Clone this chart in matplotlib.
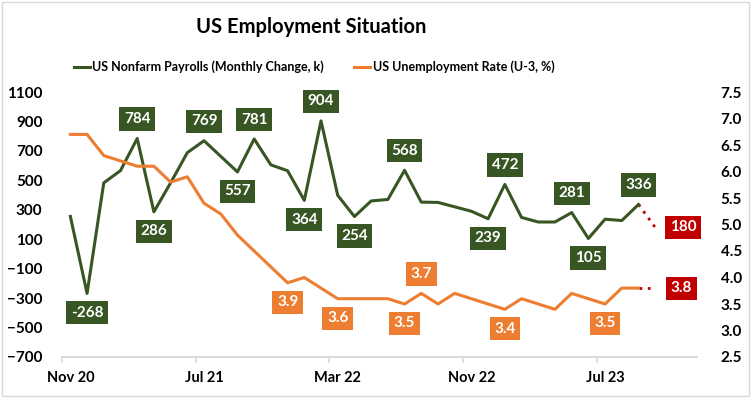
import matplotlib
matplotlib.use("Agg")
import matplotlib.pyplot as plt
from matplotlib.patches import Rectangle

plt.rcParams['font.family'] = ['Lato', 'DejaVu Sans']
plt.rcParams['font.weight'] = 'bold'

# monthly data, Nov 2020 .. Sep 2023, then one forecast month (Oct 2023)
months = ["Nov 20", "Dec 20", "Jan 21", "Feb 21", "Mar 21", "Apr 21", "May 21", "Jun 21",
          "Jul 21", "Aug 21", "Sep 21", "Oct 21", "Nov 21", "Dec 21", "Jan 22", "Feb 22",
          "Mar 22", "Apr 22", "May 22", "Jun 22", "Jul 22", "Aug 22", "Sep 22", "Oct 22",
          "Nov 22", "Dec 22", "Jan 23", "Feb 23", "Mar 23", "Apr 23", "May 23", "Jun 23",
          "Jul 23", "Aug 23", "Sep 23"]
payrolls = [255, -268, 483, 566, 784, 286, 483, 688, 769, 663, 557, 781, 605, 565, 364, 904,
            398, 254, 360, 370, 568, 352, 350, 320, 290, 239, 472, 248, 217, 217, 281, 105,
            236, 227, 336]
unemp = [6.7, 6.7, 6.3, 6.2, 6.1, 6.1, 5.8, 5.9, 5.4, 5.2, 4.8, 4.5, 4.2, 3.9, 4.0, 3.8,
         3.6, 3.6, 3.6, 3.6, 3.5, 3.7, 3.5, 3.7, 3.6, 3.5, 3.4, 3.6, 3.5, 3.4, 3.7, 3.6,
         3.5, 3.8, 3.8]
payrolls_fc = 180
unemp_fc = 3.8

xtick_labels = ["Nov 20", "Jul 21", "Mar 22", "Nov 22", "Jul 23"]
left_ticks = [1100, 900, 700, 500, 300, 100, -100, -300, -500, -700]
right_ticks = [7.5, 7.0, 6.5, 6.0, 5.5, 5.0, 4.5, 4.0, 3.5, 3.0, 2.5]

# which points get a label: index -> +1 above / -1 below
pay_labels = {1: -1, 4: 1, 5: -1, 8: 1, 10: -1, 11: 1, 14: -1, 15: 1, 17: -1,
              20: 1, 25: -1, 26: 1, 30: 1, 31: -1, 34: 1}
unemp_labels = {13: -1, 16: -1, 20: -1, 21: 1, 26: -1, 32: -1}

green = "#375623"
orange = "#ED7D31"
red = "#C00000"

fig = plt.figure(figsize=(7.51, 3.98), dpi=100)
ax = fig.add_axes([62 / 751, 1 - 357 / 398, 635 / 751, 265 / 398])
ax2 = ax.twinx()

x = list(range(len(months)))
ax.plot(x, payrolls, color=green, lw=2.2, zorder=3)
ax2.plot(x, unemp, color=orange, lw=2.2, zorder=3)
ax.plot([x[-1], x[-1] + 1], [payrolls[-1], payrolls_fc], color=red, lw=2, ls=(0, (1, 2)))
ax2.plot([x[-1], x[-1] + 1], [unemp[-1], unemp_fc], color=red, lw=2, ls=(0, (1, 2)))

ax.set_ylim(-700, 1100)
ax2.set_ylim(2.5, 7.5)
ax.set_xlim(-0.5, 37.5)
ax.set_yticks(left_ticks)
ax2.set_yticks(right_ticks)
ax2.set_yticklabels([f"{t:.1f}" for t in right_ticks])
ax.set_xticks([months.index(m) for m in xtick_labels])
ax.set_xticklabels(xtick_labels)
ax.set_xticks([months.index(m) - 0.5 for m in xtick_labels], minor=True)

for a in (ax, ax2):
    for s in ("top", "left", "right"):
        a.spines[s].set_visible(False)
    a.spines["bottom"].set_color("#d9d9d9")
    a.spines["bottom"].set_linewidth(1.2)
ax.tick_params(axis='x', which='major', length=0, pad=10, labelsize=10.5)
ax.tick_params(axis='x', which='minor', length=4, color="#d9d9d9", width=1.2)
ax.tick_params(axis='y', length=0, pad=14, labelsize=11)
ax2.tick_params(axis='y', length=0, pad=17, labelsize=11)

box = dict(boxstyle="square,pad=0.3", ec="none")
for i, d in pay_labels.items():
    ax.annotate(str(payrolls[i]), (i, payrolls[i]), xytext=(0, 14 * d), textcoords="offset points",
                ha="center", va="center", color="white", fontsize=11, fontweight="bold",
                bbox=dict(box, fc=green), zorder=5)
for i, d in unemp_labels.items():
    ax2.annotate(f"{unemp[i]:.1f}", (i, unemp[i]), xytext=(0, 14 * d), textcoords="offset points",
                 ha="center", va="center", color="white", fontsize=11, fontweight="bold",
                 bbox=dict(box, fc=orange), zorder=5)
ax.annotate(str(payrolls_fc), (x[-1] + 1, payrolls_fc), xytext=(20, 0), textcoords="offset points",
            ha="center", va="center", color="white", fontsize=11, fontweight="bold",
            bbox=dict(box, fc=red), zorder=5)
ax2.annotate(f"{unemp_fc:.1f}", (x[-1] + 1, unemp_fc), xytext=(19, 0), textcoords="offset points",
             ha="center", va="center", color="white", fontsize=11, fontweight="bold",
             bbox=dict(box, fc=red), zorder=5)

fig.text(311 / 751, 1 - 27 / 398, "US Employment Situation", ha="center", va="center",
         fontsize=14.5, fontweight="bold")

h1, = ax.plot([], [], color=green, lw=2.2)
h2, = ax.plot([], [], color=orange, lw=2.2)
fig.legend([h1, h2], ["US Nonfarm Payrolls (Monthly Change, k)", "US Unemployment Rate (U-3, %)"],
           loc="center", bbox_to_anchor=(314 / 751, 1 - 67 / 398), ncol=2, frameon=False,
           handlelength=1.3, handletextpad=0.2, columnspacing=2.4, prop=dict(size=9, weight="bold"))

fig.patches.append(Rectangle((0.002, 0.004), 0.996, 0.992, transform=fig.transFigure,
                             fill=False, ec="#d9d9d9", lw=1))

fig.savefig("out.png", dpi=100)
